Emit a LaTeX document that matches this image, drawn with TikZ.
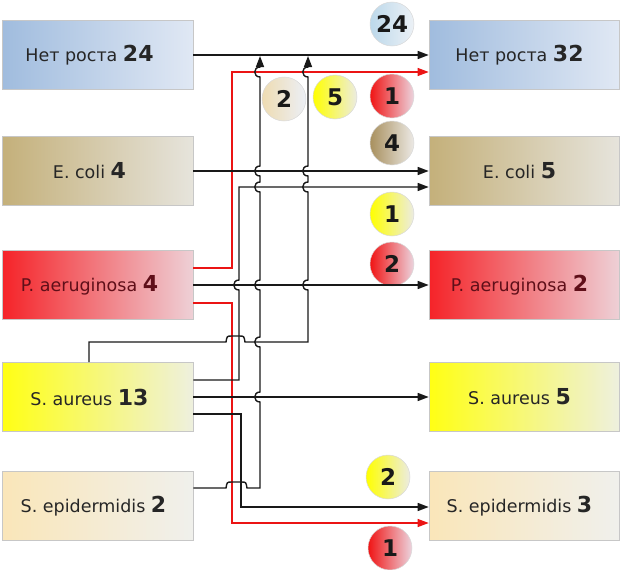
\documentclass[tikz,border=0pt]{standalone}
\usepackage{fontspec}
\setmainfont{DejaVu Sans}
\usetikzlibrary{arrows.meta}
\definecolor{blueL}{RGB}{160,188,222}\definecolor{blueR}{RGB}{224,232,244}
\definecolor{tanL}{RGB}{196,176,122}\definecolor{tanR}{RGB}{230,228,220}
\definecolor{redL}{RGB}{245,35,40}\definecolor{redR}{RGB}{238,208,214}
\definecolor{yelL}{RGB}{255,255,20}\definecolor{yelR}{RGB}{238,240,222}
\definecolor{begL}{RGB}{250,230,185}\definecolor{begR}{RGB}{240,240,236}
\definecolor{cblueL}{RGB}{188,216,234}\definecolor{cblueR}{RGB}{236,241,246}
\definecolor{cbegL}{RGB}{238,220,178}\definecolor{cbegR}{RGB}{236,239,246}
\definecolor{cyelL}{RGB}{255,255,0}\definecolor{cyelR}{RGB}{236,236,226}
\definecolor{credL}{RGB}{240,20,20}\definecolor{credR}{RGB}{236,212,222}
\definecolor{cbrnL}{RGB}{168,144,94}\definecolor{cbrnR}{RGB}{236,233,229}
\definecolor{linered}{RGB}{235,20,20}
\newcommand\bignum[1]{{\fontsize{22}{26}\selectfont\bfseries #1}}
\newcommand\lpad{\hspace*{16pt}}
\newcommand\rpad{\hspace*{9pt}}
\begin{document}
\begin{tikzpicture}[x=1pt,y=-1pt,
  box/.style={draw=black!22, line width=0.6pt, minimum width=191pt, minimum height=69pt,
    inner sep=0pt, text=black!85, font=\fontsize{17.5}{21}\selectfont},
  num/.style={circle, draw=black!15, line width=0.5pt, minimum size=44pt, inner sep=0pt,
    text=black!90, font=\bfseries\fontsize{23}{27}\selectfont},
  conn/.style={line width=1.4pt, black!90, -{Triangle[length=11pt,width=8pt]}},
  redconn/.style={line width=1.1pt, linered, -{Triangle[length=11pt,width=8pt]}},
  vhop/.style 2 args={insert path={-- (#1,#2+5) .. controls (#1-7,#2+5) and (#1-7,#2-5) .. (#1,#2-5)}},
]
\useasboundingbox (0,0) rectangle (621,570);
% left boxes
\node[box, left color=blueL, right color=blueR] (L1) at (97.5,55) {Нет роста \bignum{24}\lpad};
\node[box, left color=tanL, right color=tanR] (L2) at (97.5,171) {E. coli \bignum{4}\lpad};
\node[box, left color=redL, right color=redR, text={rgb,255:red,95;green,15;blue,25}] (L3) at (97.5,285) {P. aeruginosa \bignum{4}\lpad};
\node[box, left color=yelL, right color=yelR] (L4) at (97.5,397) {S. aureus \bignum{13}\lpad};
\node[box, left color=begL, right color=begR] (L5) at (97.5,506) {S. epidermidis \bignum{2}\hspace*{8pt}};
% right boxes
\node[box, minimum width=190pt, left color=blueL, right color=blueR] (R1) at (524,55) {Нет роста \bignum{32}\rpad};
\node[box, minimum width=190pt, left color=tanL, right color=tanR] (R2) at (524,171) {E. coli \bignum{5}\rpad};
\node[box, minimum width=190pt, left color=redL, right color=redR, text={rgb,255:red,95;green,15;blue,25}] (R3) at (524,285) {P. aeruginosa \bignum{2}\rpad};
\node[box, minimum width=190pt, left color=yelL, right color=yelR] (R4) at (524,397) {S. aureus \bignum{5}\rpad};
\node[box, minimum width=190pt, left color=begL, right color=begR] (R5) at (524,506) {S. epidermidis \bignum{3}\rpad};
% circles
\node[num, left color=cblueL, right color=cblueR] (c24) at (392,24) {24};
\node[num, left color=cbegL, right color=cbegR] (c2a) at (284,99) {2};
\node[num, left color=cyelL, right color=cyelR] (c5) at (335,97) {5};
\node[num, left color=credL, right color=credR] (c1a) at (392,96) {1};
\node[num, left color=cbrnL, right color=cbrnR] (c4) at (392,143) {4};
\node[num, left color=cyelL, right color=cyelR] (c1b) at (392,214) {1};
\node[num, left color=credL, right color=credR] (c2b) at (392,264) {2};
\node[num, left color=cyelL, right color=cyelR] (c2c) at (388,477) {2};
\node[num, left color=credL, right color=credR] (c1c) at (390,548) {1};
% red connectors
\draw[redconn] ([yshift=17pt]L3.east) -- (232,268) -- (232,72) -- ([yshift=-17pt]R1.west);
\draw[redconn] ([yshift=-18pt]L3.east) -- (232,303) -- (232,523) -- ([yshift=-17pt]R5.west);
% black straight connectors
\draw[conn] (L1.east) -- (R1.west);
\draw[conn] (L2.east) -- (R2.west);
\draw[conn] (L3.east) -- (R3.west);
\draw[conn] (L4.east) -- (R4.west);
% S. aureus -> E. coli
\draw[conn] ([yshift=17pt]L4.east) -- (239,380) [vhop={239}{285}] -- (239,187) -- ([yshift=-16pt]R2.west);
% S. aureus -> S. epidermidis
\draw[conn] ([yshift=-17pt]L4.east) -- (241,414) -- (241,507) -- ([yshift=-1pt]R5.west);
% S. epidermidis -> Нет роста
\draw[conn] ([yshift=18pt]L5.east) -- (226,488) .. controls (227,482) .. (232,482) -- (241,482)
  .. controls (246,482) .. (247,488) -- (260,488)
  [vhop={260}{397}] [vhop={260}{342}] [vhop={260}{285}] [vhop={260}{187}] [vhop={260}{171}] [vhop={260}{72}]
  -- (260,56);
% S. aureus (top) -> Нет роста
\draw[conn] ([xshift=-8.5pt]L4.north) -- (89,342) -- (226,342) .. controls (227,336) .. (232,336) -- (239,336)
  .. controls (244,336) .. (245,342) -- (308,342)
  [vhop={308}{285}] [vhop={308}{187}] [vhop={308}{171}] [vhop={308}{72}] -- (308,56);
\end{tikzpicture}
\end{document}
